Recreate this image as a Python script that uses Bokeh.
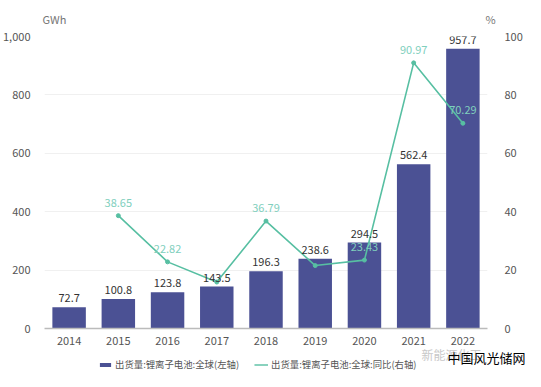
from bokeh.plotting import figure
from bokeh.layouts import column
from bokeh.models import (ColumnDataSource, FactorRange, Range1d, LinearAxis, Legend, LegendItem,
                          NumeralTickFormatter, FixedTicker, Label)
from bokeh.core.properties import value
from bokeh.embed import file_html
from bokeh.resources import INLINE

years = ["2014", "2015", "2016", "2017", "2018", "2019", "2020", "2021", "2022"]
shipments = [72.7, 100.8, 123.8, 143.5, 196.3, 238.6, 294.5, 562.4, 957.7]
yoy_years = ["2015", "2016", "2017", "2018", "2019", "2020", "2021", "2022"]
yoy = [38.65, 22.82, 15.91, 36.79, 21.55, 23.43, 90.97, 70.29]
yoy_labels = ["38.65", "22.82", "", "36.79", "", "23.43", "90.97", "70.29"]
bar_name = "出货量:锂离子电池:全球(左轴)"
line_name = "出货量:锂离子电池:全球:同比(右轴)"
left_unit = "GWh"
right_unit = "%"
left_ticks = [0, 200, 400, 600, 800, 1000]
right_ticks = [0, 20, 40, 60, 80, 100]

FONT = "Noto Sans CJK SC"
BAR_C = "#4b5194"
LINE_C = "#57bfa2"
LLAB_C = "#80cfbd"
TICK_C = "#555555"
W = 525


def blank(h):
    f = figure(width=W, height=h, x_range=Range1d(0, W), y_range=Range1d(h, 0),
               x_axis_type=None, y_axis_type=None, output_backend="svg",
               toolbar_location=None, min_border=0, frame_align=False)
    f.outline_line_color = None
    f.grid.visible = False
    return f


# ---- top strip: unit labels
top = blank(28)
top.add_layout(Label(x=42, y=18, text=left_unit, text_font=FONT, text_font_size="11px",
                     text_color="#777777", text_baseline="middle", text_align="left"))
top.add_layout(Label(x=490, y=18, text=right_unit, text_font=FONT, text_font_size="11px",
                     text_color="#777777", text_baseline="middle", text_align="center"))

# ---- main chart
bar_src = ColumnDataSource(dict(x=years, v=shipments, t=[f"{s:.1f}" for s in shipments]))
line_src = ColumnDataSource(dict(x=yoy_years, v=yoy, t=yoy_labels))

p = figure(width=W, height=319, x_range=FactorRange(*years), y_range=Range1d(0, 1000),
           output_backend="svg", toolbar_location=None, frame_align=False,
           min_border_left=42, min_border_right=33, min_border_top=8, min_border_bottom=17)
p.outline_line_color = None
p.extra_y_ranges = {"pct": Range1d(0, 100)}

p.vbar(x="x", top="v", width=0.68, source=bar_src, fill_color=BAR_C, line_color=None)
p.line(x="x", y="v", source=line_src, y_range_name="pct", line_color=LINE_C, line_width=1.6)
p.scatter(x="x", y="v", source=line_src, y_range_name="pct", size=4,
          fill_color=LINE_C, line_color=LINE_C)

p.text(x="x", y="v", text="t", source=bar_src, text_align="center", text_baseline="middle",
       y_offset=-9, text_font=value(FONT), text_font_size="11px", text_color="#333333")
p.text(x="x", y="v", text="t", source=line_src, y_range_name="pct", text_align="center",
       text_baseline="middle", y_offset=-13, text_font=value(FONT), text_font_size="11px",
       text_color=LLAB_C)

p.yaxis.ticker = FixedTicker(ticks=left_ticks)
p.yaxis.formatter = NumeralTickFormatter(format="0,0")
p.yaxis.axis_line_color = None
p.yaxis.major_tick_line_color = None
p.yaxis.minor_tick_line_color = None
p.yaxis.major_label_standoff = 8
p.yaxis.major_label_text_font = FONT
p.yaxis.major_label_text_font_size = "11px"
p.yaxis.major_label_text_color = TICK_C

p.xaxis.axis_line_color = "#bbbbbb"
p.xaxis.axis_line_width = 1.5
p.xaxis.major_tick_line_color = None
p.xaxis.minor_tick_line_color = None
p.xaxis.major_label_standoff = 2
p.xaxis.major_label_text_font = FONT
p.xaxis.major_label_text_font_size = "11px"
p.xaxis.major_label_text_color = TICK_C

ra = LinearAxis(y_range_name="pct", ticker=FixedTicker(ticks=right_ticks))
ra.axis_line_color = None
ra.major_tick_line_color = None
ra.minor_tick_line_color = None
ra.major_label_standoff = 11
ra.major_label_text_font = FONT
ra.major_label_text_font_size = "11px"
ra.major_label_text_color = TICK_C
p.add_layout(ra, "right")

p.xgrid.grid_line_color = None
p.ygrid.grid_line_color = "#f0f0f0"

# ---- bottom strip: legend + watermarks
bot = blank(24)
idx = list(range(len(years)))
key_bar = ColumnDataSource(dict(x=idx, top=shipments))
key_line = ColumnDataSource(dict(x=idx[1:], y=yoy))
lb = bot.vbar(x="x", top="top", width=0.68, source=key_bar, fill_color=BAR_C, line_color=None,
              visible=False)
ll = bot.line(x="x", y="y", source=key_line, line_color=LINE_C, line_width=1.4, visible=False)
bot.add_layout(Label(x=421, y=7, text="新能源化工", text_font=FONT, text_font_size="12px",
                     text_color="#c8c8c8", text_baseline="middle", text_align="left"))
bot.add_layout(Label(x=447, y=10, text="中国风光储网", text_font=FONT, text_font_size="13px",
                     text_color="#000000", text_baseline="middle", text_align="left"))
legend = Legend(items=[LegendItem(label=bar_name, renderers=[lb]),
                       LegendItem(label=line_name, renderers=[ll])],
                orientation="horizontal", location=(98, 0), border_line_color=None,
                background_fill_alpha=0, padding=0, margin=0, spacing=15,
                glyph_width=14, glyph_height=5, label_height=12, label_standoff=3,
                label_text_font=FONT, label_text_font_size="9.4px", label_text_color=TICK_C)
bot.add_layout(legend, "center")

layout = column(top, p, bot, spacing=0)
open("out.html", "w").write(file_html(layout, INLINE))
